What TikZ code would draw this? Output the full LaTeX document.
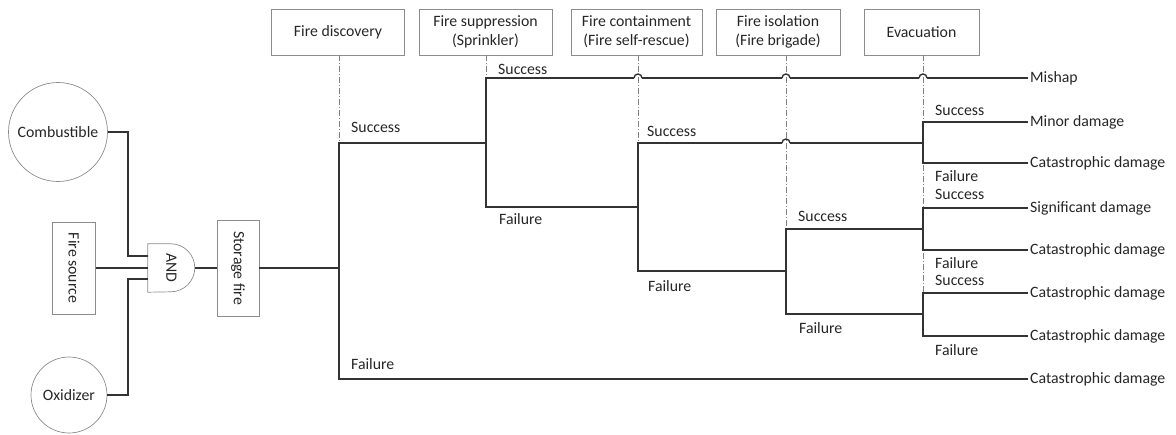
\documentclass[tikz,border=0pt]{standalone}
\usepackage{fontspec}
\setmainfont{Carlito}

\begin{document}
\begin{tikzpicture}[
    x=1pt,
    y=-1pt,
    font=\fontsize{15.8}{19}\selectfont,
    every node/.style={
        text=black!85
    },
    box line/.style={
        draw=black!45,
        line width=0.7pt
    },
    stage/.style={
        box line,
        minimum height=46pt,
        minimum width=#1,
        align=center,
        inner sep=2pt
    },
    cause/.style={
        box line,
        circle,
        minimum size=#1,
        inner sep=0pt
    },
    vbox/.style={
        box line,
        minimum width=43pt,
        minimum height=#1,
        inner sep=0pt
    },
    branch/.style={
        draw=black!80,
        line width=1.4pt
    },
    guide/.style={
        draw=black!50,
        line width=0.6pt,
        dash pattern=on 6pt off 2pt on 1pt off 2pt
    },
    outcome/.style={
        anchor=west,
        inner sep=2pt
    },
    lbl/.style={
        anchor=west,
        inner sep=0pt
    },
    ]
    \useasboundingbox (0,0) rectangle (1176,434);

    % event sequence headers
    \node[stage=133pt] (disc) at (338,32) {Fire discovery};
    \node[stage=133pt] (supp) at (485.5,32) {Fire suppression\\(Sprinkler)};
    \node[stage=131pt] (cont) at (636.5,32) {Fire containment\\(Fire self-rescue)};
    \node[stage=124pt] (iso) at (778,32) {Fire isolation\\(Fire brigade)};
    \node[stage=115pt] (evac) at (921.5,32) {Evacuation};

    % initiating event
    \node[cause=99pt] (comb) at (58,132) {Combustible};
    \node[cause=76pt] (oxi) at (69,395) {Oxidizer};
    \node[vbox=92pt] (src) at (74,268) {\rotatebox{-90}{Fire source}};
    \node[minimum width=47pt, minimum height=48pt, inner sep=0pt] (andg) at (171.5,268) {\rotatebox{-90}{AND}};
    \node[vbox=96pt, minimum width=42pt] (store) at (238,268) {\rotatebox{-90}{Storage fire}};
    \draw[box line] (andg.north west) -- ++(23,0)
        arc[start angle=90, end angle=-90, radius=24pt] -- (andg.south west) -- cycle;
    \coordinate (in1) at ([yshift=12pt]andg.west);
    \coordinate (in3) at ([yshift=-11pt]andg.west);

    % forks
    \coordinate (d) at (339,268);
    \coordinate (s) at (486,143);
    \coordinate (c) at (638,207);
    \coordinate (i) at (786,271);
    \coordinate (e1) at (923,143);
    \coordinate (e2) at (923,229);
    \coordinate (e3) at (923,314);

    % consequences
    \node[outcome] (o1) at (1028,78) {Mishap};
    \node[outcome] (o2) at (1028,122) {Minor damage};
    \node[outcome] (o3) at (1028,163) {Catastrophic damage};
    \node[outcome] (o4) at (1028,208) {Significant damage};
    \node[outcome] (o5) at (1028,250) {Catastrophic damage};
    \node[outcome] (o6) at (1028,293) {Catastrophic damage};
    \node[outcome] (o7) at (1028,336) {Catastrophic damage};
    \node[outcome] (o8) at (1028,379) {Catastrophic damage};

    \draw[guide] (disc.south -| d) -- (d |- s);
    \draw[guide] (supp.south -| s) -- (s |- o1);
    \draw[guide] (cont.south -| c) -- (c |- e1);
    \draw[guide] (iso.south -| i) -- (i |- e2);
    \draw[guide] (evac.south -| e1) -- (e3 |- o6);

    \draw[branch] (comb.east) -| ([xshift=-20pt]in1) -- (in1);
    \draw[branch] (oxi.east) -| ([xshift=-20pt]in3) -- (in3);
    \draw[branch] (src) -- (andg);
    \draw[branch] (andg) -- (store);
    \draw[branch] (store) -- (d);

    \draw[branch] (d) |- (s);
    \draw[branch] (d) |- (o8);
    \draw[branch] (s) -- (s |- o1) -- ([xshift=-4pt]c |- o1)
        ([xshift=4pt]c |- o1) -- ([xshift=-4pt]i |- o1)
        ([xshift=4pt]i |- o1) -- ([xshift=-4pt]e1 |- o1)
        ([xshift=4pt]e1 |- o1) -- (o1);
    \draw[branch] (s) |- (c);
    \draw[branch] (c) -- (c |- e1) -- ([xshift=-4pt]i |- e1)
        ([xshift=4pt]i |- e1) -- (e1);
    % line hops over the guides
    \foreach \f/\r in {c/o1, i/o1, e1/o1, i/e1}
        \draw[branch] ([xshift=-4pt]\f |- \r) arc[start angle=180, end angle=0, radius=4pt];
    \draw[branch] (c) |- (i);
    \draw[branch] (i) |- (e2);
    \draw[branch] (i) |- (e3);
    \draw[branch] (e1) |- (o2);
    \draw[branch] (e1) |- (o3);
    \draw[branch] (e2) |- (o4);
    \draw[branch] (e2) |- (o5);
    \draw[branch] (e3) |- (o6);
    \draw[branch] (e3) |- (o7);

    % success / failure labels
    \node[lbl] (ds) at (351,127) {Success};
    \node[lbl] (df) at (351,364) {Failure};
    \node[lbl] (ss) at (498,69) {Success};
    \node[lbl] (sf) at (499,219) {Failure};
    \node[lbl] (cs) at (647,131) {Success};
    \node[lbl] (cf) at (648,286) {Failure};
    \node[lbl] (is) at (798,216) {Success};
    \node[lbl] (if) at (799,328) {Failure};
    \node[lbl] (es1) at (935,110) {Success};
    \node[lbl] (ef1) at (935,176) {Failure};
    \node[lbl] (es2) at (935,194) {Success};
    \node[lbl] (ef2) at (935,263) {Failure};
    \node[lbl] (es3) at (935,280) {Success};
    \node[lbl] (ef3) at (935,350) {Failure};
\end{tikzpicture}
\end{document}
